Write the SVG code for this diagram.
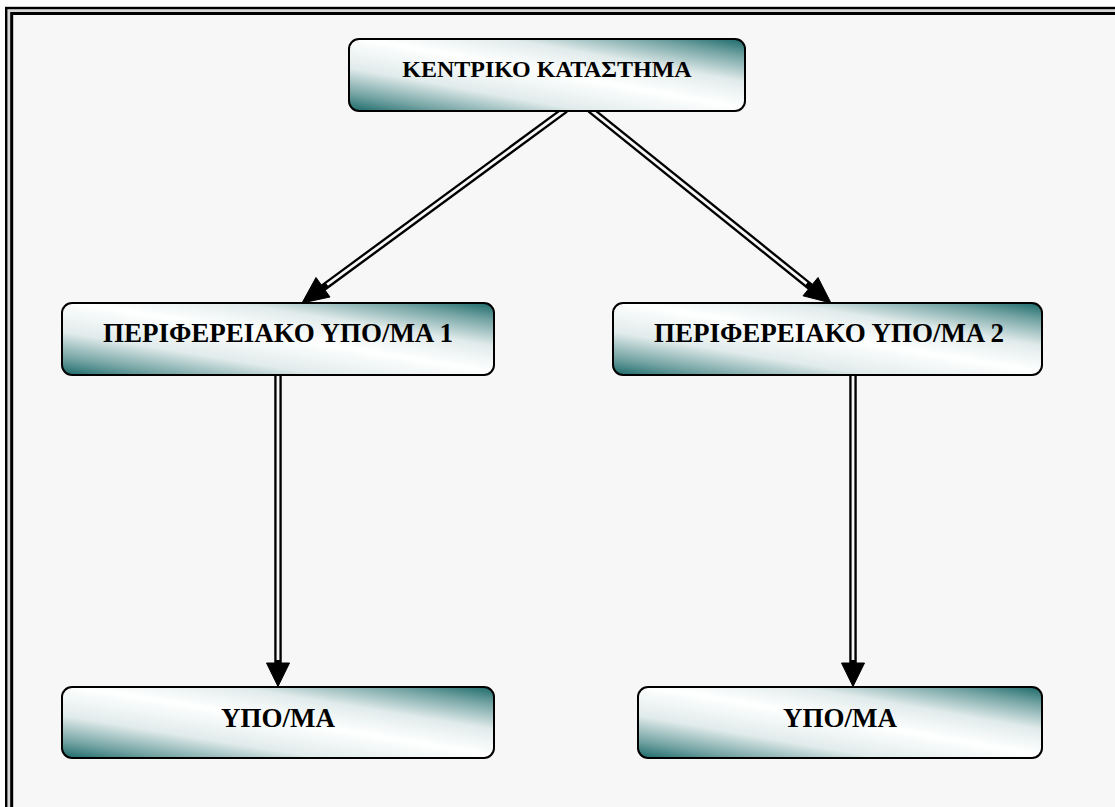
<svg xmlns="http://www.w3.org/2000/svg" width="1115" height="807" viewBox="0 0 1115 807">
  <defs>
    <!-- teal corner shading used on every box -->
    <linearGradient id="tealFill" x1="0" y1="1" x2="1" y2="0">
      <stop offset="0" stop-color="#1a6868"/>
      <stop offset="0.12" stop-color="#72a2a2"/>
      <stop offset="0.3" stop-color="#e1ebeb"/>
      <stop offset="0.52" stop-color="#ffffff"/>
      <stop offset="0.7" stop-color="#e1ebeb"/>
      <stop offset="0.88" stop-color="#72a2a2"/>
      <stop offset="1" stop-color="#1a6868"/>
    </linearGradient>
    <style>
      .box { fill: url(#tealFill); stroke: #000; stroke-width: 2; }
      .label { font-family: "Liberation Serif", "Times New Roman", serif; font-weight: bold; fill: #000; text-anchor: middle; }
      .shaft-outer { stroke: #000; stroke-width: 7.5; fill: none; }
      .shaft-inner { stroke: #f7f7f7; stroke-width: 2.8; fill: none; }
      .head { fill: #000; stroke: #000; stroke-width: 1; stroke-linejoin: miter; }
      .frame { fill: none; stroke: #000; }
    </style>
  </defs>

  <!-- page background and double frame -->
  <rect x="0" y="0" width="1115" height="807" fill="#ffffff"/>
  <rect x="6" y="8" width="1130" height="830" fill="#d8d8d8"/>
  <rect x="11.7" y="13.5" width="1120" height="820" fill="#f7f7f7"/>
  <rect class="frame" x="6.2" y="8" width="1130" height="830" stroke-width="2.4"/>
  <rect class="frame" x="11.7" y="13.5" width="1120" height="820" stroke-width="3"/>

  <!-- connectors: double-line shafts with solid heads -->
  <g id="connectors">
    <!-- main store to branch 1 -->
    <line class="shaft-outer" x1="565.5" y1="109.5" x2="323.1" y2="287.7"/>
    <line class="shaft-inner" x1="565.5" y1="109.5" x2="327.1" y2="284.7"/>
    <polygon class="head" points="302,303 330,297 316,277.5"/>
    <!-- main store to branch 2 -->
    <line class="shaft-outer" x1="590" y1="109.4" x2="810.5" y2="286.8"/>
    <line class="shaft-inner" x1="590" y1="109.4" x2="806.6" y2="283.7"/>
    <polygon class="head" points="831,303 803,295.8 818,277.5"/>
    <!-- branch 1 to store -->
    <line class="shaft-outer" x1="278" y1="374" x2="278" y2="664"/>
    <line class="shaft-inner" x1="278" y1="374" x2="278" y2="660"/>
    <polygon class="head" points="278,686.5 266.5,663 289.5,663"/>
    <!-- branch 2 to store -->
    <line class="shaft-outer" x1="853" y1="374" x2="853" y2="664"/>
    <line class="shaft-inner" x1="853" y1="374" x2="853" y2="660"/>
    <polygon class="head" points="853,686.5 841.5,663 864.5,663"/>
  </g>

  <g id="central-store">
    <rect class="box" x="349" y="39" width="396" height="72" rx="10" ry="10"/>
    <text class="label" x="547" y="77" font-size="24">ΚΕΝΤΡΙΚΟ ΚΑΤΑΣΤΗΜΑ</text>
  </g>

  <g id="regional-branch-1">
    <rect class="box" x="62" y="303" width="432" height="72" rx="10" ry="10"/>
    <text class="label" x="278" y="342" font-size="27">ΠΕΡΙΦΕΡΕΙΑΚΟ ΥΠΟ/ΜΑ 1</text>
  </g>

  <g id="regional-branch-2">
    <rect class="box" x="613" y="303" width="429" height="72" rx="10" ry="10"/>
    <text class="label" x="829" y="342" font-size="27">ΠΕΡΙΦΕΡΕΙΑΚΟ ΥΠΟ/ΜΑ 2</text>
  </g>

  <g id="store-1">
    <rect class="box" x="62" y="687" width="432" height="71" rx="10" ry="10"/>
    <text class="label" x="278" y="727" font-size="27">ΥΠΟ/ΜΑ</text>
  </g>

  <g id="store-2">
    <rect class="box" x="638" y="687" width="404" height="71" rx="10" ry="10"/>
    <text class="label" x="840" y="727" font-size="27">ΥΠΟ/ΜΑ</text>
  </g>
</svg>
